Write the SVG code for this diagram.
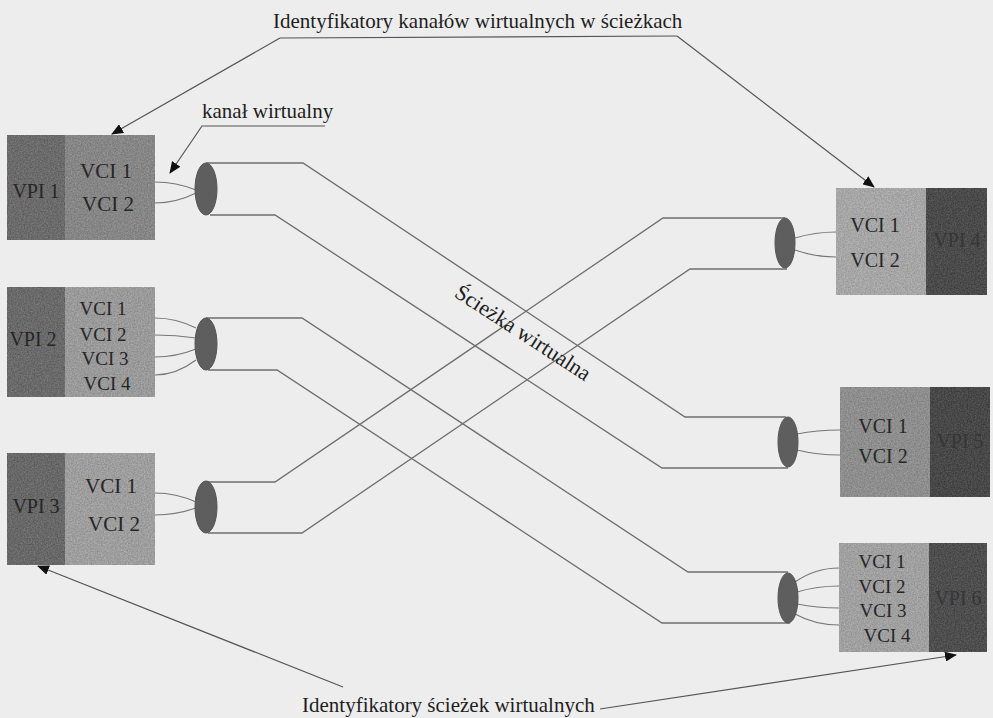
<svg xmlns="http://www.w3.org/2000/svg" width="993" height="718" viewBox="0 0 993 718">
  <style>
    .lbl { font-family: "Liberation Serif", "Times New Roman", serif; font-size: 21px; fill: #1e1e1e; }
    .vci { font-family: "Liberation Serif", "Times New Roman", serif; font-size: 20px; fill: #262626; text-anchor: middle; }
    .vci4 { font-size: 19px; }
    .vpi { font-family: "Liberation Serif", "Times New Roman", serif; font-size: 20px; fill: #262626; text-anchor: middle; }
    .vpi-dark { fill: #363636; }
    .wire { fill: none; stroke: #6e6e6e; stroke-width: 1.3; }
    .tap { fill: none; stroke: #777; stroke-width: 1.2; }
    .ptr { fill: none; stroke: #555; stroke-width: 1.2; }
    .cable { fill: #5e5e5e; stroke: #555; stroke-width: 1; }
  </style>
  <defs>
    <marker id="head" markerUnits="userSpaceOnUse" markerWidth="12" markerHeight="10" refX="11" refY="5" orient="auto">
      <path d="M0,0 L12,5 L0,10 z" fill="#111"/>
    </marker>
    <!-- mottled print texture for the identifier blocks -->
    <filter id="grain" x="0" y="0" width="100%" height="100%" color-interpolation-filters="sRGB">
      <feTurbulence type="fractalNoise" baseFrequency="0.7" numOctaves="2" seed="4" result="noise"/>
      <feColorMatrix in="noise" type="matrix" values="1 0 0 0 0  1 0 0 0 0  1 0 0 0 0  0 0 0 0 1" result="grey"/>
      <feComposite in="SourceGraphic" in2="grey" operator="arithmetic" k1="0" k2="1" k3="0.22" k4="-0.11" result="mix"/>
      <feComposite in="mix" in2="SourceGraphic" operator="in"/>
    </filter>
  </defs>

  <!-- page -->
  <rect x="0" y="0" width="993" height="718" fill="#ededed"/>

  <!-- virtual paths between the bundles -->
  <g id="connectors">
    <path class="wire" d="M206,163 H303 L685,417 H786"/>
    <path class="wire" d="M210,215 H275 L662,468 H788"/>
    <path class="wire" d="M206,318 H302 L688,572 H788"/>
    <path class="wire" d="M208,370 H277 L662,623 H790"/>
    <path class="wire" d="M206,482 H275 L663,218 H785"/>
    <path class="wire" d="M208,533 H302 L690,269 H787"/>
  </g>

  <!-- left side -->
  <g id="vp1">
    <g filter="url(#grain)">
      <rect x="7" y="135" width="58" height="105" fill="#6b6b6b"/>
      <rect x="65" y="135" width="90" height="105" fill="#868686"/>
    </g>
    <text class="vpi" x="36" y="198">VPI 1</text>
    <text class="vci" x="106" y="178" style="font-size:21px">VCI 1</text>
    <text class="vci" x="108" y="211" style="font-size:21px">VCI 2</text>
    <path class="tap" d="M155,182 Q176,182 196,190"/>
    <path class="tap" d="M155,203 Q176,203 196,193"/>
    <ellipse class="cable" cx="206" cy="189" rx="11" ry="26"/>
  </g>

  <g id="vp2">
    <g filter="url(#grain)">
      <rect x="7" y="287" width="58" height="110" fill="#6a6a6a"/>
      <rect x="65" y="287" width="90" height="110" fill="#9a9a9a"/>
    </g>
    <text class="vpi" x="33" y="346">VPI 2</text>
    <text class="vci vci4" x="103" y="315">VCI 1</text>
    <text class="vci vci4" x="103" y="341">VCI 2</text>
    <text class="vci vci4" x="105" y="365">VCI 3</text>
    <text class="vci vci4" x="107" y="390">VCI 4</text>
    <path class="tap" d="M155,318 Q176,318 196,328"/>
    <path class="tap" d="M155,335 Q176,335 196,338"/>
    <path class="tap" d="M155,357 Q176,357 196,349"/>
    <path class="tap" d="M155,375 Q176,375 196,360"/>
    <ellipse class="cable" cx="206" cy="344" rx="11" ry="26"/>
  </g>

  <g id="vp3">
    <g filter="url(#grain)">
      <rect x="7" y="453" width="58" height="112" fill="#686868"/>
      <rect x="65" y="453" width="90" height="112" fill="#9e9e9e"/>
    </g>
    <text class="vpi" x="36" y="513">VPI 3</text>
    <text class="vci" x="111" y="493" style="font-size:21px">VCI 1</text>
    <text class="vci" x="114" y="531" style="font-size:21px">VCI 2</text>
    <path class="tap" d="M155,493 Q176,493 196,502"/>
    <path class="tap" d="M155,515 Q176,515 196,508"/>
    <ellipse class="cable" cx="206" cy="507" rx="11" ry="26"/>
  </g>

  <!-- right side -->
  <g id="vp4">
    <g filter="url(#grain)">
      <rect x="836" y="188" width="90" height="107" fill="#a6a6a6"/>
      <rect x="926" y="188" width="61" height="107" fill="#4b4b4b"/>
    </g>
    <text class="vci" x="875" y="232">VCI 1</text>
    <text class="vci" x="875" y="267">VCI 2</text>
    <text class="vpi vpi-dark" x="957" y="247">VPI 4</text>
    <path class="tap" d="M795,238 Q815,232 836,232"/>
    <path class="tap" d="M795,250 Q815,257 836,257"/>
    <ellipse class="cable" cx="785" cy="243" rx="10" ry="25"/>
  </g>

  <g id="vp5">
    <g filter="url(#grain)">
      <rect x="840" y="387" width="90" height="110" fill="#8e8e8e"/>
      <rect x="930" y="387" width="60" height="110" fill="#484848"/>
    </g>
    <text class="vci" x="883" y="433">VCI 1</text>
    <text class="vci" x="883" y="463">VCI 2</text>
    <text class="vpi vpi-dark" x="960" y="448">VPI 5</text>
    <path class="tap" d="M797,434 Q817,430 840,430"/>
    <path class="tap" d="M797,450 Q817,455 840,455"/>
    <ellipse class="cable" cx="788" cy="442" rx="10" ry="25"/>
  </g>

  <g id="vp6">
    <g filter="url(#grain)">
      <rect x="839" y="543" width="90" height="109" fill="#a0a0a0"/>
      <rect x="929" y="543" width="58" height="109" fill="#4e4e4e"/>
    </g>
    <text class="vci vci4" x="882" y="568">VCI 1</text>
    <text class="vci vci4" x="882" y="593">VCI 2</text>
    <text class="vci vci4" x="883" y="617">VCI 3</text>
    <text class="vci vci4" x="887" y="642">VCI 4</text>
    <text class="vpi vpi-dark" x="958" y="605">VPI 6</text>
    <path class="tap" d="M795,582 Q815,568 839,568"/>
    <path class="tap" d="M797,592 Q817,586 839,586"/>
    <path class="tap" d="M797,604 Q817,608 839,608"/>
    <path class="tap" d="M795,614 Q815,625 839,625"/>
    <ellipse class="cable" cx="788" cy="598" rx="10" ry="25"/>
  </g>

  <!-- captions with their pointers -->
  <g id="label-vci">
    <text class="lbl" x="273" y="28">Identyfikatory kanałów wirtualnych w ścieżkach</text>
    <path class="ptr" d="M280,38 L677,36"/>
    <path class="ptr" d="M280,38 L112,134" marker-end="url(#head)"/>
    <path class="ptr" d="M677,36 L874,187" marker-end="url(#head)"/>
  </g>

  <g id="label-vc">
    <text class="lbl" x="202" y="118">kanał wirtualny</text>
    <path class="ptr" d="M325,126 L202,126 L170,173" marker-end="url(#head)"/>
  </g>

  <g id="label-vp">
    <text class="lbl" transform="translate(523,333) rotate(33)" text-anchor="middle" dy="7" style="font-size:22px">Ścieżka wirtualna</text>
  </g>

  <g id="label-vpi">
    <text class="lbl" x="302" y="712">Identyfikatory ścieżek wirtualnych</text>
    <path class="ptr" d="M343,687 L38,566" marker-end="url(#head)"/>
    <path class="ptr" d="M600,709 L956,655" marker-end="url(#head)"/>
  </g>
</svg>
